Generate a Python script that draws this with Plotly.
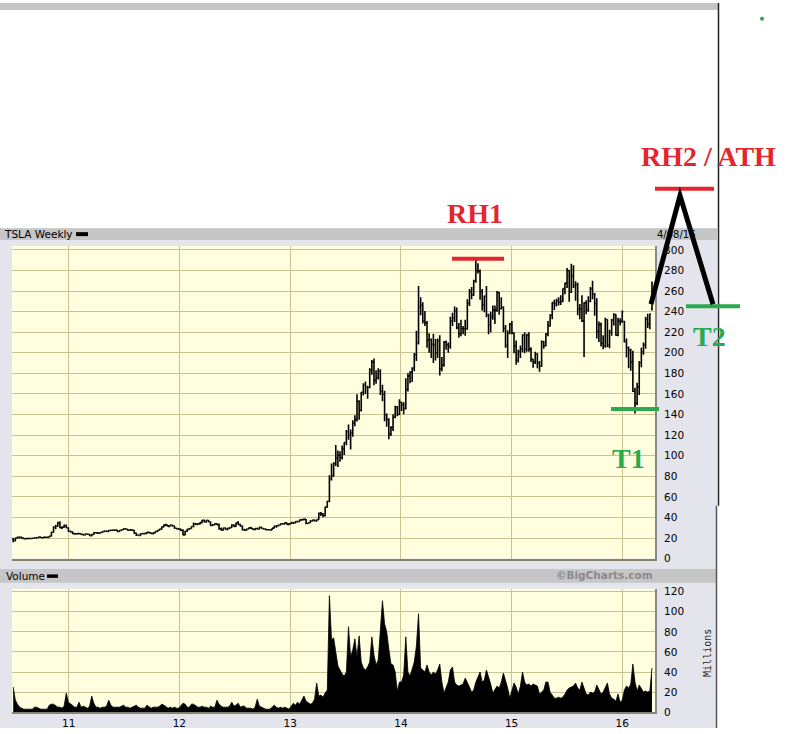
import pandas as pd
import plotly.graph_objects as go

# ---------------- data: TSLA weekly bars ----------------
first_week = "2010-07-02"          # weekly bars, week ending Fridays

week_open = [
    # 2010
    19.5,17.5,19.9,20.6,20.9,19.9,19.3,19.5,19.6,19.5,19.8,20.2,20.3,20.9,20.2,20.6,20.8,20.6,21.8,25.6,30.7,31.5,34.5,30.0,30.5,32.3,30.0,
    # 2011
    26.6,26.0,24.3,23.9,24.3,24.1,23.5,23.0,23.9,23.6,22.3,23.4,25.1,25.0,24.8,25.3,26.2,26.8,26.5,27.3,27.6,27.5,27.8,26.4,27.3,28.1,
    29.0,28.5,27.5,27.9,27.6,24.8,23.0,22.6,24.1,24.3,24.5,25.5,25.1,24.4,25.0,26.3,27.5,28.6,30.8,32.5,32.3,31.3,32.5,31.8,29.5,28.9,
    # 2012
    28.6,27.3,23.0,26.6,28.4,29.3,31.2,33.7,33.3,33.6,35.0,37.3,35.6,37.2,35.8,32.3,32.9,33.8,33.0,29.0,27.6,29.8,28.4,29.4,30.2,32.6,
    31.3,34.6,33.3,31.6,28.0,27.7,28.7,29.9,29.2,28.3,29.1,28.9,30.5,29.3,28.8,28.1,28.0,27.8,29.6,31.5,31.8,32.7,33.8,33.7,34.7,33.1,
    # 2013
    33.9,35.0,34.7,35.9,36.0,37.6,37.9,38.3,34.1,34.8,36.7,37.4,36.6,37.9,43.9,43.4,41.6,50.0,55.8,76.8,80.6,92.4,97.8,100.5,98.3,106.9,
    112.8,123.5,119.9,122.0,131.8,135.1,152.8,144.2,161.5,169.0,166.5,166.2,183.4,190.9,173.3,175.7,182.1,162.6,159.7,139.8,135.5,121.4,127.3,137.4,147.0,140.0,
    # 2014
    152.0,149.6,145.7,164.4,177.5,181.4,185.0,198.2,209.6,244.8,246.2,230.9,228.9,212.4,212.9,208.2,207.5,199.9,211.2,184.5,188.4,210.2,207.8,206.4,231.0,233.9,
    240.6,224.5,218.6,223.6,223.3,223.2,248.0,259.3,256.0,269.7,280.0,279.2,259.3,246.9,255.2,236.9,227.5,235.3,241.7,241.2,258.7,242.8,244.5,223.7,207.0,219.3,
    # 2015
    227.8,219.3,206.6,192.7,201.3,203.6,217.1,203.8,217.1,203.3,193.9,191.0,199.0,190.0,187.0,210.9,206.8,218.4,226.0,236.6,248.8,247.7,250.8,249.1,250.0,262.5,
    267.7,280.0,259.2,274.7,265.4,266.2,242.5,242.5,230.8,248.5,241.5,250.2,262.2,256.9,247.6,220.7,227.0,209.1,206.9,232.4,207.2,220.0,231.6,237.2,217.0,230.5,
    # 2016
    230.6,230.7,211.0,204.9,202.6,191.2,162.6,151.0,166.6,190.3,201.0,207.5,232.7,227.8,242.0,
]
week_high = [
    20.0,20.3,21.5,21.3,21.0,20.2,19.9,20.1,20.0,20.2,20.6,20.8,21.5,21.2,20.9,21.2,21.0,22.0,26.0,31.5,33.0,35.9,36.4,31.5,33.0,32.8,30.2,
    27.2,26.3,24.9,24.8,24.7,24.4,24.0,24.3,24.4,23.9,23.8,25.6,25.8,25.4,25.7,26.6,27.3,27.2,27.8,28.0,28.1,28.5,28.0,27.6,28.6,29.5,
    29.4,28.7,28.3,28.4,27.8,25.0,23.5,24.6,24.9,25.0,25.9,26.0,25.3,25.5,26.7,27.8,29.0,31.3,33.5,33.8,32.6,33.0,32.9,32.0,29.9,29.3,
    29.0,28.5,27.0,29.0,29.8,31.5,35.0,34.7,34.5,35.3,37.8,38.0,37.5,37.6,36.0,33.6,34.4,34.0,34.0,30.2,30.1,30.3,29.9,30.5,33.3,33.5,
    35.0,36.5,33.9,32.2,29.0,28.9,30.2,30.9,29.5,29.5,29.9,31.0,31.0,29.7,29.2,28.7,28.5,29.8,31.9,32.5,33.0,34.0,34.5,35.0,34.9,34.5,
    35.4,35.6,36.2,36.5,38.0,38.4,39.0,38.5,35.2,37.0,37.8,38.1,38.0,44.8,45.2,44.3,50.5,56.0,81.0,92.3,93.6,110.3,105.0,104.4,110.0,113.0,
    125.0,130.4,125.5,134.5,139.3,159.7,154.0,162.0,170.5,172.0,168.0,185.0,193.0,194.5,183.0,185.0,184.0,169.0,163.0,141.0,136.5,128.5,140.2,148.5,148.2,154.9,
    152.5,152.0,175.2,180.0,182.0,186.0,199.7,221.3,265.0,254.0,249.0,240.5,231.0,219.0,214.0,218.5,213.5,214.0,217.0,196.0,211.5,212.0,210.0,235.0,239.0,245.0,
    244.0,229.0,232.0,226.0,232.0,252.0,262.0,264.0,271.0,291.4,287.0,281.0,262.0,255.5,265.0,238.0,240.0,246.0,246.0,260.0,259.0,254.0,245.0,227.0,222.0,229.0,
    231.0,220.0,212.0,203.0,207.0,218.0,220.0,218.5,220.0,205.5,194.0,201.0,199.5,192.0,212.0,211.5,219.0,231.0,237.5,249.0,251.5,252.5,254.0,256.0,262.5,268.0,
    282.5,280.5,286.6,285.0,269.5,268.0,247.5,256.0,249.0,251.0,255.0,264.0,270.0,258.0,253.0,230.5,229.5,217.0,234.0,232.5,222.5,233.0,238.5,237.5,234.0,233.5,
    241.0,231.0,214.0,206.0,204.0,202.0,166.0,171.0,192.0,205.0,210.0,235.0,238.0,238.0,269.3,
]
week_low = [
    15.8,16.9,19.2,19.6,19.3,18.8,18.6,18.9,18.8,19.1,19.4,19.8,20.0,19.9,19.9,20.3,20.2,20.4,21.5,25.0,28.5,31.0,29.5,28.8,30.0,29.5,26.2,
    25.3,23.9,23.2,23.5,23.6,23.1,22.6,22.7,23.2,21.9,21.8,23.1,24.6,24.2,24.3,25.0,25.8,25.9,26.0,26.7,27.0,27.1,26.0,25.8,27.0,27.8,
    28.0,27.1,27.0,27.1,24.2,21.9,22.1,22.3,23.7,23.8,24.2,24.6,23.9,23.4,24.8,25.9,27.2,28.3,30.4,31.7,30.8,31.1,31.2,29.1,28.4,28.1,
    26.8,22.7,22.8,26.2,28.0,28.9,30.5,32.6,32.8,33.0,34.4,35.3,35.0,35.3,31.6,31.8,32.4,32.6,28.1,27.3,27.4,28.2,27.6,28.8,29.9,30.7,
    31.0,32.8,31.2,27.3,26.8,27.2,28.4,28.8,27.9,27.6,28.3,28.2,28.9,28.3,27.6,27.5,27.3,27.7,29.3,30.0,31.4,32.5,33.2,33.4,32.8,32.7,
    33.6,33.6,34.4,35.2,35.7,36.8,37.1,33.5,33.8,34.5,36.0,36.1,36.0,37.8,41.4,40.1,41.2,49.3,54.8,76.0,79.6,90.0,88.9,94.0,96.3,100.6,
    110.2,115.6,106.0,118.3,128.5,133.2,135.0,143.0,158.4,160.0,155.3,165.5,178.7,168.5,170.0,174.0,159.0,153.0,133.5,128.2,116.1,119.1,124.0,136.3,138.4,139.5,
    143.5,140.2,145.0,162.5,170.5,171.5,182.0,192.0,208.0,236.5,228.5,226.0,204.8,200.0,195.0,190.0,192.5,195.0,178.0,182.0,186.5,203.0,200.0,204.0,226.0,230.0,
    223.0,214.5,216.0,218.0,216.5,222.5,245.5,252.0,255.5,268.0,277.0,251.5,241.0,239.5,234.5,218.0,220.0,232.0,228.0,240.0,237.0,242.0,220.0,205.0,195.0,218.0,
    218.0,199.5,188.5,190.5,195.0,200.5,199.5,201.0,201.0,191.0,185.5,189.0,185.0,181.5,186.5,204.0,206.0,216.0,225.5,232.5,241.5,245.0,246.0,246.5,249.0,257.0,
    263.0,249.5,258.0,263.0,250.5,236.5,232.5,230.0,196.0,237.5,240.0,249.0,252.0,236.0,214.0,210.5,206.0,203.5,205.0,205.5,204.5,216.5,226.5,216.5,216.0,226.5,
    229.0,210.0,195.5,185.0,182.5,162.0,141.0,149.0,159.0,186.0,198.0,204.0,224.0,223.0,241.0,
]
week_close = [
    17.5,19.9,20.6,20.9,19.9,19.3,19.5,19.6,19.5,19.8,20.2,20.3,20.9,20.2,20.6,20.8,20.6,21.8,25.6,30.7,31.5,34.5,30.0,30.5,32.3,30.0,26.6,
    26.0,24.3,23.9,24.3,24.1,23.5,23.0,23.9,23.6,22.3,23.4,25.1,25.0,24.8,25.3,26.2,26.8,26.5,27.3,27.6,27.5,27.8,26.4,27.3,28.1,29.0,
    28.5,27.5,27.9,27.6,24.8,23.0,22.6,24.1,24.3,24.5,25.5,25.1,24.4,25.0,26.3,27.5,28.6,30.8,32.5,32.3,31.3,32.5,31.8,29.5,28.9,28.6,
    27.3,23.0,26.6,28.4,29.3,31.2,33.7,33.3,33.6,35.0,37.3,35.6,37.2,35.8,32.3,32.9,33.8,33.0,29.0,27.6,29.8,28.4,29.4,30.2,32.6,31.3,
    34.6,33.3,31.6,28.0,27.7,28.7,29.9,29.2,28.3,29.1,28.9,30.5,29.3,28.8,28.1,28.0,27.8,29.6,31.5,31.8,32.7,33.8,33.7,34.7,33.1,33.9,
    35.0,34.7,35.9,36.0,37.6,37.9,38.3,34.1,34.8,36.7,37.4,36.6,37.9,43.9,43.4,41.6,50.0,55.8,76.8,80.6,92.4,97.8,100.5,98.3,106.9,112.8,
    123.5,119.9,122.0,131.8,135.1,152.8,144.2,161.5,169.0,166.5,166.2,183.4,190.9,173.3,175.7,182.1,162.6,159.7,139.8,135.5,121.4,127.3,137.4,147.0,140.0,152.0,
    149.6,145.7,164.4,177.5,181.4,185.0,198.2,209.6,244.8,246.2,230.9,228.9,212.4,212.9,208.2,207.5,199.9,211.2,184.5,188.4,210.2,207.8,206.4,231.0,233.9,240.6,
    224.5,218.6,223.6,223.3,223.2,248.0,259.3,256.0,269.7,280.0,279.2,259.3,246.9,255.2,236.9,227.5,235.3,241.7,241.2,258.7,242.8,244.5,223.7,207.0,219.3,227.8,
    219.3,206.6,192.7,201.3,203.6,217.1,203.8,217.1,203.3,193.9,191.0,199.0,190.0,187.0,210.9,206.8,218.4,226.0,236.6,248.8,247.7,250.8,249.1,250.0,262.5,267.7,
    280.0,259.2,274.7,265.4,266.2,242.5,242.5,230.8,248.5,241.5,250.2,262.2,256.9,247.6,220.7,227.0,209.1,206.9,232.4,207.2,220.0,231.6,237.2,217.0,230.5,230.6,
    240.0,211.0,204.9,202.6,191.2,162.6,151.0,166.6,190.3,201.0,207.5,232.7,227.8,237.6,250.1,
]
week_volume_millions = [
    25,12,8,5,4,3,3,3,3,3,5,5,4,3,3,3,3,7,8,8,6,5,5,4,6,19,10,
    8,6,5,5,10,5,6,5,4,6,16,9,5,5,4,5,5,6,12,7,5,5,5,5,6,7,5,5,4,5,6,7,5,4,4,4,7,5,4,5,5,5,6,8,7,5,4,5,4,5,4,4,
    6,9,8,5,5,8,8,6,5,5,6,5,5,4,6,5,5,12,8,6,5,5,5,6,10,6,7,9,5,6,6,4,4,4,3,5,13,6,5,4,3,3,3,5,7,5,4,5,4,5,4,3,
    6,9,7,10,8,12,16,11,9,8,9,13,29,16,17,15,19,22,116,72,74,62,46,42,38,36,40,85,55,62,73,55,76,50,44,42,45,50,75,57,47,52,80,111,88,80,63,48,47,40,21,30,
    30,37,75,40,36,42,50,66,98,44,42,40,47,40,37,40,38,42,48,30,19,25,30,42,45,30,27,26,27,28,34,30,25,20,22,30,36,40,30,32,42,36,28,19,22,26,24,30,39,32,24,14,
    22,29,25,18,26,40,30,27,28,26,28,27,26,18,20,22,30,30,20,17,14,14,15,14,15,18,22,24,25,26,29,24,22,30,24,18,17,20,19,20,27,22,18,20,24,29,18,14,13,11,18,10,
    12,22,26,24,28,48,30,21,27,24,20,21,20,21,44,
]

year_ticks = ["2011-01-01", "2012-01-01", "2013-01-01", "2014-01-01", "2015-01-01", "2016-01-01"]
year_labels = ["11", "12", "13", "14", "15", "16"]
price_ticks = list(range(0, 301, 20))
volume_ticks = list(range(0, 121, 20))

# hand-drawn markup levels (price units)
markup_levels = {"RH1": 291.3, "T1": 145.4, "T2": 245.2, "RH2": 359.5}
swing_path_levels = [247.2, 352.8, 247.2]

# ---------------- geometry ----------------
W, H = 793, 734
def fx(px): return px / W
def fy(py): return 1 - py / H

x_range = ["2010-06-28", "2016-04-18"]
x_dom = [fx(12), fx(655)]
price_range = [0, 303.8]
price_dom = [fy(562.5), fy(246)]
vol_range = [0, 122.9]
vol_dom = [fy(718), fy(593)]

def price_to_paper(v):
    return price_dom[0] + (v - price_range[0]) / (price_range[1] - price_range[0]) * (price_dom[1] - price_dom[0])

n = min(len(week_open), len(week_high), len(week_low), len(week_close), len(week_volume_millions))
dates = pd.date_range(first_week, periods=n, freq="W-FRI")

GRID = "#c9c393"
PANEL = "#e4e4ec"
BAND = "#c6c6c6"
PLOT_BG = "#ffffe0"
RED = "#e3262d"
GREEN = "#2aaa4c"
FONT = "DejaVu Sans"

fig = go.Figure()
fig.add_trace(go.Ohlc(
    x=dates, open=week_open[:n], high=week_high[:n], low=week_low[:n], close=week_close[:n],
    increasing=dict(line=dict(color="black", width=1.6)),
    decreasing=dict(line=dict(color="black", width=1.6)),
    tickwidth=0.5, xaxis="x", yaxis="y", hoverinfo="skip", showlegend=False,
))
fig.add_trace(go.Scatter(
    x=dates, y=week_volume_millions[:n], mode="lines", fill="tozeroy",
    line=dict(color="black", width=0.8), fillcolor="black",
    xaxis="x2", yaxis="y2", hoverinfo="skip", showlegend=False,
))

axis_font = dict(family=FONT, size=10.5, color="black")
common_x = dict(type="date", range=x_range, domain=x_dom, tickmode="array", tickvals=year_ticks,
                ticktext=year_labels, showgrid=True, gridcolor=GRID, gridwidth=1, zeroline=False,
                ticks="", showline=True, linecolor="#84846e", linewidth=2, tickfont=axis_font,
                rangeslider=dict(visible=False), fixedrange=True)
fig.update_layout(
    width=W, height=H, margin=dict(l=0, r=0, t=0, b=0),
    paper_bgcolor="white", plot_bgcolor="rgba(0,0,0,0)", showlegend=False,
    xaxis=dict(common_x, anchor="y", showticklabels=False),
    xaxis2=dict(common_x, anchor="y2", showticklabels=True),
    yaxis=dict(domain=price_dom, range=price_range, side="right", anchor="x", tickmode="array",
               tickvals=price_ticks, showgrid=True, gridcolor=GRID, zeroline=False, ticks="",
               showline=True, linecolor="#888888", linewidth=2, tickfont=axis_font,
               ticklabelstandoff=5, fixedrange=True),
    yaxis2=dict(domain=vol_dom, range=vol_range, side="right", anchor="x2", tickmode="array",
                tickvals=volume_ticks, showgrid=True, gridcolor=GRID, zeroline=False, ticks="",
                showline=True, linecolor="#888888", linewidth=2, tickfont=axis_font,
                ticklabelstandoff=5, fixedrange=True),
)

shapes = []
def rect(x0, y0, x1, y1, color, layer="below"):
    shapes.append(dict(type="rect", xref="paper", yref="paper", x0=fx(x0), x1=fx(x1),
                       y0=fy(y1), y1=fy(y0), fillcolor=color, line=dict(width=0), layer=layer))

# chart frame backgrounds
rect(0, 0, 718, 7, BAND)
rect(0, 228, 717, 573, PANEL)
rect(0, 573, 717, 734, PANEL)
rect(0, 228, 717, 240, BAND)
rect(0, 573, 717, 587, BAND)
rect(12, 246, 655, 562.5, PLOT_BG)
rect(12, 593, 655, 718, PLOT_BG)
# legend swatches
rect(76, 232, 88, 236, "black", "above")
rect(47, 578.5, 58, 582, "black", "above")
# frame lines
shapes.append(dict(type="line", xref="paper", yref="paper", x0=fx(718.5), x1=fx(718.5),
                   y0=fy(0), y1=fy(509), line=dict(color="#222222", width=1.5), layer="above"))
shapes.append(dict(type="line", xref="paper", yref="paper", x0=fx(716.5), x1=fx(716.5),
                   y0=fy(509), y1=fy(734), line=dict(color="#555555", width=1.5), layer="above"))

def hline(x0, x1, level, color):
    y = price_to_paper(level)
    shapes.append(dict(type="line", xref="paper", yref="paper", x0=fx(x0), x1=fx(x1), y0=y, y1=y,
                       line=dict(color=color, width=4), layer="above"))

hline(452, 504, markup_levels["RH1"], RED)
hline(655, 714, markup_levels["RH2"], RED)
hline(611, 659, markup_levels["T1"], GREEN)
hline(686, 740, markup_levels["T2"], GREEN)

px_pts = [651, 680, 713]
path = "M {} {} L {} {} L {} {}".format(
    fx(px_pts[0]), price_to_paper(swing_path_levels[0]),
    fx(px_pts[1]), price_to_paper(swing_path_levels[1]),
    fx(px_pts[2]), price_to_paper(swing_path_levels[2]))
shapes.append(dict(type="path", xref="paper", yref="paper", path=path,
                   line=dict(color="black", width=5), layer="above"))
# small green dot
shapes.append(dict(type="circle", xref="paper", yref="paper", x0=fx(760), x1=fx(764),
                   y0=fy(18), y1=fy(14), fillcolor=GREEN, line=dict(width=0), layer="above"))
fig.update_layout(shapes=shapes)

ann = []
def text(t, x, y, size, color, family=FONT, xanchor="center", bold=False, angle=0):
    ann.append(dict(text=("<b>%s</b>" % t) if bold else t, xref="paper", yref="paper",
                    x=fx(x), y=fy(y), xanchor=xanchor, yanchor="middle", showarrow=False,
                    textangle=angle, font=dict(family=family, size=size, color=color)))

text("TSLA Weekly", 2, 234, 10.5, "black", xanchor="left")
text("4/08/16", 655, 234, 10, "black", xanchor="left")
text("Volume", 4, 580, 10.5, "black", xanchor="left")
text("©BigCharts.com", 655, 579, 10.5, "#8a8a8a", xanchor="right", bold=True)
text("Millions", 708, 658, 10, "#222222", family="DejaVu Sans Mono", angle=-90)
text("RH1", 475, 213, 28, RED, family="Liberation Serif", bold=True)
text("RH2 / ATH", 708.5, 155, 28, RED, family="Liberation Serif", bold=True)
text("T1", 628, 461, 28, GREEN, family="Liberation Serif", bold=True)
text("T2", 709, 338, 28, GREEN, family="Liberation Serif", bold=True)
fig.update_layout(annotations=ann)

fig.write_html("out.html", config={"displayModeBar": False, "staticPlot": True},
               post_script="document.body.style.margin='0';document.body.style.overflow='hidden';")
